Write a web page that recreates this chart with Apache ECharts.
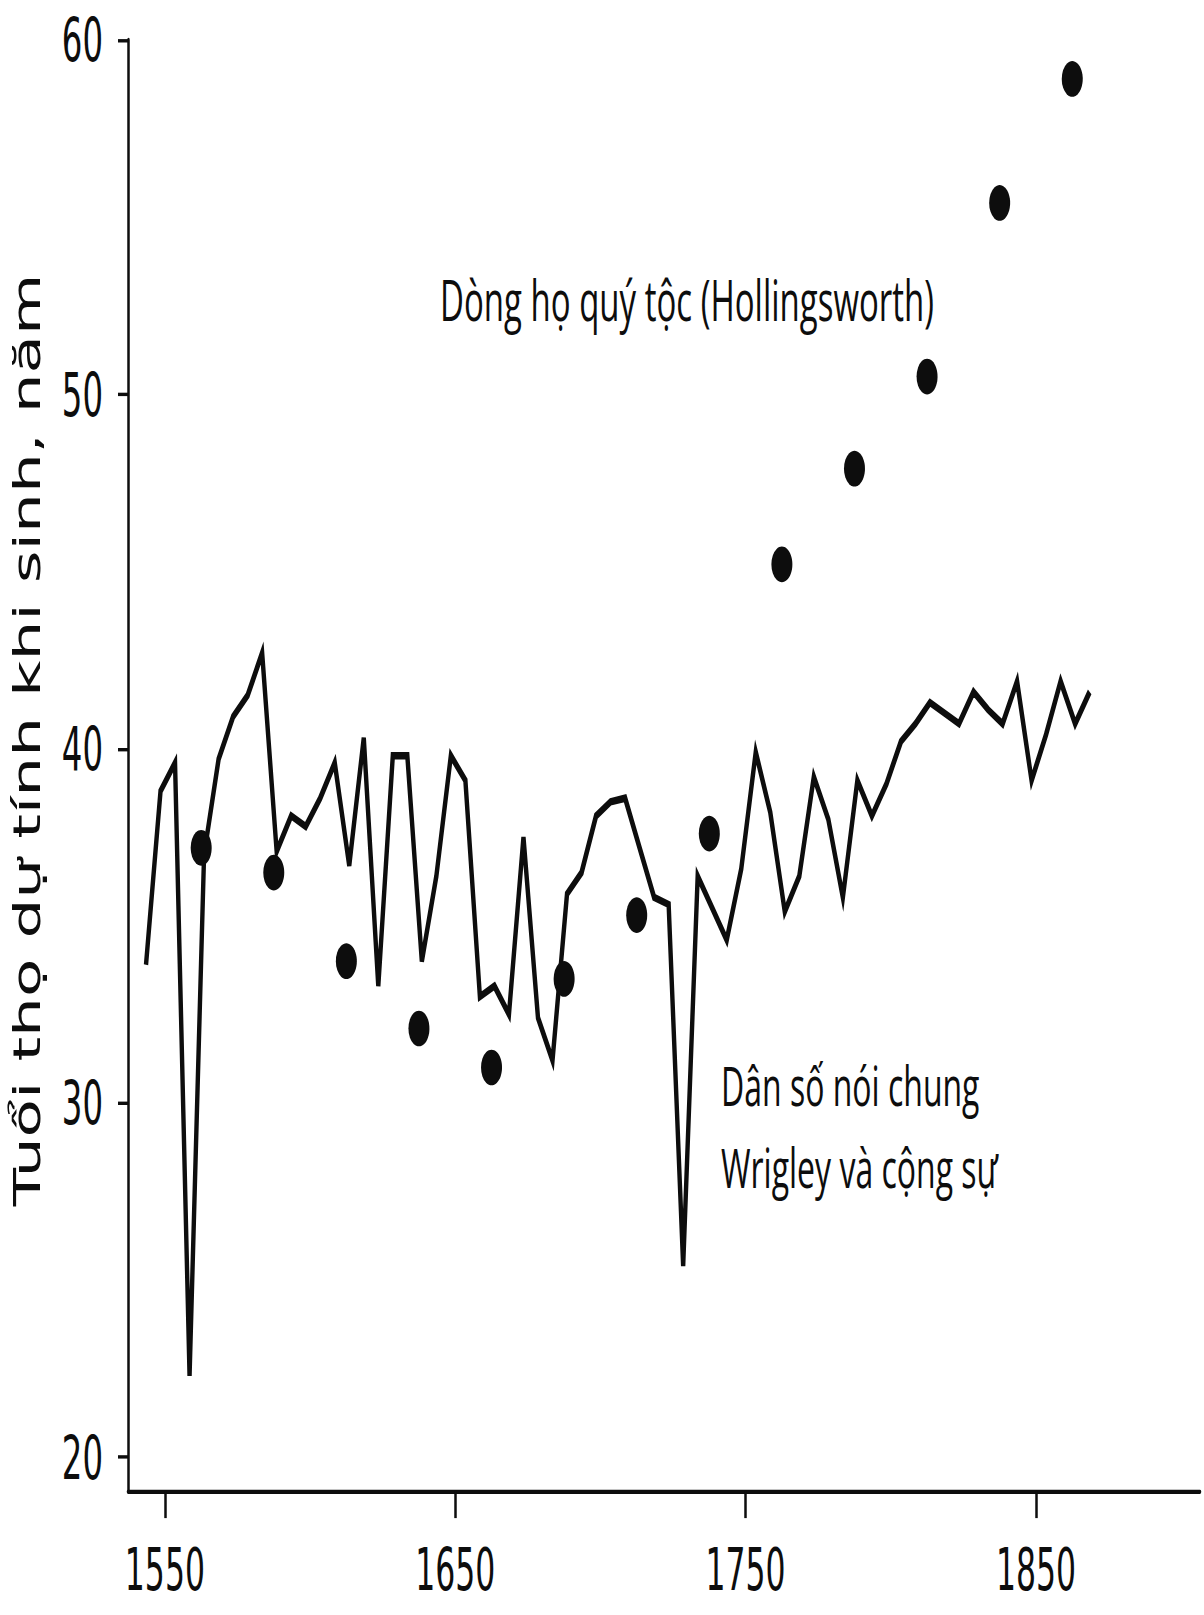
<!DOCTYPE html>
<html>
<head>
<meta charset="utf-8">
<script src="https://cdn.jsdelivr.net/npm/echarts@6/dist/echarts.min.js"></script>
<style>
  html, body { margin: 0; padding: 0; background: #ffffff; overflow: hidden; }
  #wrap { width: 1204px; height: 1615px; overflow: hidden; }
  /* the reference scan is stretched vertically; draw in a shorter box and stretch it */
  #c { width: 1204px; height: 950px; transform: scaleY(1.7); transform-origin: 0 0; }
</style>
</head>
<body>
<div id="wrap"><div id="c"></div></div>
<script>
// ---- data ----
const wsYears = [1543.5, 1548.5, 1553.5, 1558.5, 1563.5, 1568.5, 1573.5, 1578.5, 1583.5, 1588.5,
  1593.5, 1598.5, 1603.5, 1608.5, 1613.5, 1618.5, 1623.5, 1628.5, 1633.5, 1638.5,
  1643.5, 1648.5, 1653.5, 1658.5, 1663.5, 1668.5, 1673.5, 1678.5, 1683.5, 1688.5,
  1693.5, 1698.5, 1703.5, 1708.5, 1713.5, 1718.5, 1723.5, 1728.5, 1733.5, 1738.5,
  1743.5, 1748.5, 1753.5, 1758.5, 1763.5, 1768.5, 1773.5, 1778.5, 1783.5, 1788.5,
  1793.5, 1798.5, 1803.5, 1808.5, 1813.5, 1818.5, 1823.5, 1828.5, 1833.5, 1838.5,
  1843.5, 1848.5, 1853.5, 1858.5, 1863.5, 1868.5];
const wsLifeExpectancy = [33.9, 38.8, 39.6, 22.3, 37.0, 39.7, 40.9, 41.5, 42.7, 37.1,
  38.1, 37.8, 38.6, 39.6, 36.7, 40.3, 33.3, 39.8, 39.8, 34.0,
  36.4, 39.8, 39.1, 33.0, 33.3, 32.5, 37.5, 32.4, 31.2, 35.9,
  36.5, 38.1, 38.5, 38.6, 37.2, 35.8, 35.6, 25.4, 36.4, 35.5,
  34.6, 36.6, 39.9, 38.2, 35.4, 36.4, 39.2, 38.0, 35.8, 39.1,
  38.1, 39.0, 40.2, 40.7, 41.3, 41.0, 40.7, 41.6, 41.1, 40.7,
  41.9, 39.1, 40.4, 41.9, 40.7, 41.6];

const peerageYears = [1562.5, 1587.5, 1612.5, 1637.5, 1662.5, 1687.5, 1712.5,
  1737.5, 1762.5, 1787.5, 1812.5, 1837.5, 1862.5];
const peerageLifeExpectancy = [37.2, 36.5, 34.0, 32.1, 31.0, 33.5, 35.3,
  37.6, 45.2, 47.9, 50.5, 55.4, 58.9];

const xTickLabels = [1550, 1650, 1750, 1850];
const yTickLabels = [20, 30, 40, 50, 60];

const yAxisTitle = 'Tuổi thọ dự tính khi sinh, năm';
const peerageLabel = 'Dòng họ quý tộc (Hollingsworth)';
const wsLabelLines = ['Dân số nói chung', 'Wrigley và cộng sự'];

// ---- chart ----
const ink = '#0d0d0d';
const numFont = "'Liberation Sans Narrow', 'DejaVu Sans Condensed', sans-serif";
const textFont = "'Open Sans', 'Noto Sans', sans-serif";

const chart = echarts.init(document.getElementById('c'), null, { renderer: 'svg', width: 1204, height: 950 });

const wsData = wsYears.map((y, i) => [y, wsLifeExpectancy[i]]);
const peerageData = peerageYears.map((y, i) => [y, peerageLifeExpectancy[i]]);

chart.setOption({
  animation: false,
  backgroundColor: '#ffffff',
  grid: { left: 128, right: 4, top: 23.5, bottom: 73, containLabel: false },
  xAxis: {
    type: 'value',
    min: 1537.3,
    max: 1906.5,
    splitLine: { show: false },
    axisLine: { show: true, onZero: false, lineStyle: { color: ink, width: 2.5 } },
    axisTick: { show: true, customValues: xTickLabels, length: 16, lineStyle: { color: ink, width: 2.5 } },
    axisLabel: {
      customValues: xTickLabels,
      formatter: (v) => String(Math.round(v)),
      margin: 29,
      color: ink,
      fontFamily: numFont,
      fontSize: 35
    }
  },
  yAxis: {
    type: 'value',
    min: 19.05,
    max: 60,
    splitLine: { show: false },
    axisLine: { show: true, onZero: false, lineStyle: { color: ink, width: 2.5 } },
    axisTick: { show: true, customValues: yTickLabels, length: 10, lineStyle: { color: ink, width: 2 } },
    axisLabel: {
      customValues: yTickLabels,
      formatter: (v) => String(Math.round(v)),
      margin: 25,
      color: ink,
      fontFamily: numFont,
      fontSize: 36
    },
    name: yAxisTitle,
    nameLocation: 'middle',
    nameRotate: 90,
    nameGap: 82,
    nameTextStyle: {
      color: ink,
      fontFamily: "'DejaVu Sans', sans-serif",
      fontSize: 37,
      padding: [0, 0, 0, 30]
    }
  },
  series: [
    {
      name: wsLabelLines.join(' '),
      type: 'line',
      data: wsData,
      showSymbol: false,
      symbol: 'none',
      lineStyle: { color: ink, width: 4.4, join: 'miter', opacity: 1 },
      z: 2
    },
    {
      name: peerageLabel,
      type: 'scatter',
      data: peerageData,
      symbol: 'circle',
      symbolSize: 21,
      itemStyle: { color: ink, opacity: 1 },
      z: 3
    }
  ],
  graphic: [
    {
      type: 'text',
      x: 440, y: 176,
      style: { text: peerageLabel, font: '33px ' + textFont, fill: ink, align: 'left', verticalAlign: 'middle' }
    },
    {
      type: 'text',
      x: 721, y: 638,
      style: { text: wsLabelLines[0], font: '32px ' + textFont, fill: ink, align: 'left', verticalAlign: 'middle' }
    },
    {
      type: 'text',
      x: 721, y: 686.5,
      style: { text: wsLabelLines[1], font: '32px ' + textFont, fill: ink, align: 'left', verticalAlign: 'middle' }
    }
  ]
});
</script>
</body>
</html>
